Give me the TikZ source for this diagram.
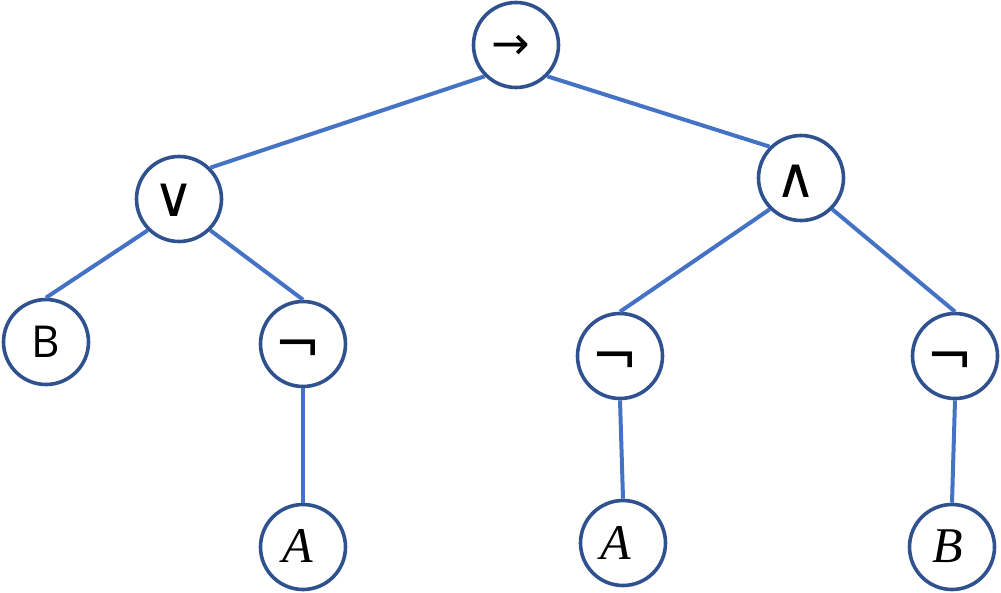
\documentclass[tikz,border=0pt]{standalone}
\usepackage{fontspec}
\setmainfont{Open Sans}
\newfontfamily\symfont{DejaVu Sans}
\newfontfamily\itfont{Liberation Serif}
\definecolor{ring}{HTML}{2F528F}
\definecolor{edge}{HTML}{4472C4}
\begin{document}
\begin{tikzpicture}[x=1pt,y=-1pt,
  circ/.style={circle,draw=ring,line width=3.6pt,fill=white,minimum size=85pt,inner sep=0pt},
  lab/.style={inner sep=0pt,text=black},
  sym/.style={lab,font=\symfont\fontsize{56}{58}\selectfont},
  sans/.style={lab,font=\fontsize{44}{46}\selectfont},
  ital/.style={lab,font=\itfont\itshape\fontsize{50}{52}\selectfont},
  conn/.style={draw=edge,line width=4pt}]
\useasboundingbox (0,0) rectangle (1001,593);
% circles
\node[circ] (r)  at (516,45)  {};
\node[circ] (or) at (179,199) {};
\node[circ] (an) at (801,178) {};
\node[circ] (b1) at (46,342)  {};
\node[circ] (n1) at (303,344) {};
\node[circ] (a1) at (303,547) {};
\node[circ] (n2) at (620,356) {};
\node[circ] (a2) at (623,543) {};
\node[circ] (n3) at (955,356) {};
\node[circ] (b2) at (952,547) {};
% connectors
\draw[conn] (r.south west) -- (or.north east);
\draw[conn] (r.south east) -- (an.north west);
\draw[conn] (or.south west) -- (b1.north);
\draw[conn] (or.south east) -- (n1.north);
\draw[conn] (n1.south) -- (a1.north);
\draw[conn] (an.south west) -- (n2.north);
\draw[conn] (an.south east) -- (n3.north);
\draw[conn] (n2.south) -- (a2.north);
\draw[conn] (n3.south) -- (b2.north);
% labels
\node[lab,font=\symfont\fontsize{46}{48}\selectfont] (tr) at (511,47) {→};
\node[sym] (tor) at (174,200) {∨};
\node[sym] (tan) at (796,181) {∧};
\node[sans] (tb1) at (46,342) {B};
\node[sym] (tn1) at (298,352) {¬};
\node[sym] (tn2) at (615,364) {¬};
\node[sym] (tn3) at (950,364) {¬};
\node[ital] (ta1) at (298,546) {A};
\node[ital] (ta2) at (616,543) {A};
\node[ital] (tb2) at (948,546) {B};
\end{tikzpicture}
\end{document}
